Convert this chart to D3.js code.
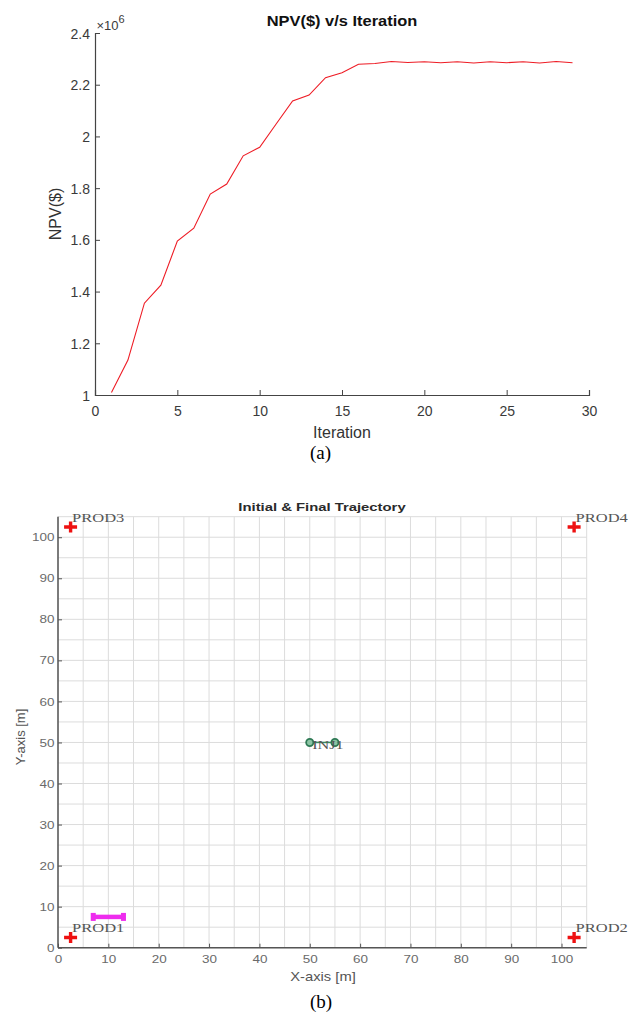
<!DOCTYPE html>
<html>
<head>
<meta charset="utf-8">
<script src="https://cdn.jsdelivr.net/npm/d3@7"></script>
<style>
  html, body { margin: 0; padding: 0; background: #fff; }
  svg { display: block; }
</style>
</head>
<body>
<script>
// ---- (a) NPV per optimisation iteration ----
const iterations = [1, 2, 3, 4, 5, 6, 7, 8, 9, 10, 11, 12, 13, 14, 15, 16, 17, 18, 19, 20, 21, 22, 23, 24, 25, 26, 27, 28, 29];
const npv = [1010000, 1135000, 1355000, 1425000, 1595000, 1645000, 1777000, 1816000, 1925000, 1958000,
             2048000, 2137000, 2160000, 2227000, 2246000, 2279000, 2282000, 2290000, 2286000, 2289000,
             2285000, 2289000, 2284000, 2289000, 2285000, 2289000, 2284000, 2290000, 2285000];
const iterTicks = [0, 5, 10, 15, 20, 25, 30];
const npvTicks = [1000000, 1200000, 1400000, 1600000, 1800000, 2000000, 2200000, 2400000];

// ---- (b) well locations and trajectories ----
const wellNames = ["PROD1", "PROD2", "PROD3", "PROD4"];
const wellX = [2.5, 102.5, 2.5, 102.5];
const wellY = [2.5, 2.5, 102.5, 102.5];
const injName = "INJ1";
const injTrajX = [50, 55];
const injTrajY = [50, 50];
const prodTrajX = [7, 13];
const prodTrajY = [7.5, 7.5];
const gridTicks = d3.range(0, 106, 5);
const axisTicks = [0, 10, 20, 30, 40, 50, 60, 70, 80, 90, 100];

const W = 630, H = 1013;
const svg = d3.select("body").append("svg").attr("width", W).attr("height", H);
const sans = "'Liberation Sans', Arial, Helvetica, sans-serif";
const serif = "'Liberation Serif', 'Times New Roman', serif";

// text with a horizontal stretch factor
function stext(g, x, y, str, o) {
  return g.append("text")
    .attr("transform", `translate(${x},${y}) scale(${o.sx || 1},1)` + (o.rot ? ` rotate(${o.rot})` : ""))
    .attr("text-anchor", o.anchor || "start")
    .attr("font-family", o.family || sans)
    .attr("font-size", o.size)
    .attr("font-weight", o.weight || "normal")
    .attr("fill", o.fill || "#333")
    .text(str);
}

// ================= chart (a) =================
const gA = svg.append("g");
const xA = d3.scaleLinear().domain([0, 30]).range([95, 589]);
const yA = d3.scaleLinear().domain([1000000, 2400000]).range([395, 33]);

const axA = gA.append("g").attr("transform", `translate(0,${yA.range()[0]})`)
  .call(d3.axisBottom(xA).tickValues(iterTicks).tickSize(-5).tickPadding(0).tickFormat(d3.format("d")));
axA.select(".domain").attr("stroke", "#444").attr("stroke-width", 1.2);
axA.selectAll(".tick line").attr("stroke", "#444");
axA.selectAll(".tick text").attr("y", 20.5).attr("dy", null)
  .attr("font-size", 14).attr("font-family", sans).attr("fill", "#3a3a3a");

const ayA = gA.append("g").attr("transform", `translate(${xA.range()[0]},0)`)
  .call(d3.axisLeft(yA).tickValues(npvTicks).tickSize(-5).tickPadding(0).tickFormat(d => d3.format("~g")(d / 1e6)));
ayA.select(".domain").attr("stroke", "#444").attr("stroke-width", 1.2);
ayA.selectAll(".tick line").attr("stroke", "#444");
ayA.selectAll(".tick text").attr("x", -5).attr("dy", "0.36em")
  .attr("font-size", 14).attr("font-family", sans).attr("fill", "#3a3a3a");

// exponent marker
const expo = gA.append("text").attr("x", 96.5).attr("y", 30).attr("font-family", sans).attr("fill", "#3a3a3a");
expo.append("tspan").attr("font-size", 13).text("×10");
expo.append("tspan").attr("font-size", 11).attr("dy", -7).text("6");

const lineA = d3.line().x((d, i) => xA(iterations[i])).y(d => yA(d));
gA.append("path").datum(npv).attr("d", lineA)
  .attr("fill", "none").attr("stroke", "#ee1c25").attr("stroke-width", 1.1);

stext(gA, 342, 26, "NPV($) v/s Iteration", { size: 15.5, weight: "bold", anchor: "middle", fill: "#111", sx: 1.06 });
stext(gA, 342, 438, "Iteration", { size: 16, anchor: "middle", fill: "#333" });
stext(gA, 60.5, 214, "NPV($)", { size: 16, anchor: "middle", fill: "#333", rot: -90 });
stext(gA, 320.5, 459, "(a)", { size: 19, anchor: "middle", family: serif, fill: "#000" });

// ================= chart (b) =================
const gB = svg.append("g");
const xB = d3.scaleLinear().domain([0, 105]).range([58, 586.7]);
const yB = d3.scaleLinear().domain([0, 105]).range([947.7, 516.7]);
const SX = 1.35;

// grid
gB.append("g").selectAll("line.v").data(gridTicks).join("line")
  .attr("x1", d => xB(d)).attr("x2", d => xB(d)).attr("y1", yB(0)).attr("y2", yB(105))
  .attr("stroke", "#dcdcdc").attr("stroke-width", 1);
gB.append("g").selectAll("line.h").data(gridTicks).join("line")
  .attr("y1", d => yB(d)).attr("y2", d => yB(d)).attr("x1", xB(0)).attr("x2", xB(105))
  .attr("stroke", "#dcdcdc").attr("stroke-width", 1);

// axes
const axB = gB.append("g").attr("transform", `translate(0,${yB(0)})`)
  .call(d3.axisBottom(xB).tickValues(axisTicks).tickSize(-4).tickPadding(0).tickFormat(d3.format("d")));
axB.select(".domain").attr("stroke", "#555").attr("stroke-width", 1.5).attr("d", `M${xB(0)},0H${xB(105)}`);
axB.selectAll(".tick line").attr("stroke", "#555");
axB.selectAll(".tick text").attr("y", null).attr("dy", null)
  .attr("transform", `translate(0,15) scale(${SX},1)`)
  .attr("font-size", 10).attr("font-family", sans).attr("fill", "#6a6a6a");

const ayB = gB.append("g").attr("transform", `translate(${xB(0)},0)`)
  .call(d3.axisLeft(yB).tickValues(axisTicks).tickSize(-4).tickPadding(0).tickFormat(d3.format("d")));
ayB.select(".domain").attr("stroke", "#555").attr("stroke-width", 1.5).attr("d", `M0,${yB(0)}V${yB(105)}`);
ayB.selectAll(".tick line").attr("stroke", "#555");
ayB.selectAll(".tick text").attr("x", null).attr("dy", "0.36em")
  .attr("transform", `translate(-3.5,0) scale(${SX},1)`)
  .attr("font-size", 10).attr("font-family", sans).attr("fill", "#6a6a6a");

// producer trajectory (magenta)
gB.append("line")
  .attr("x1", xB(prodTrajX[0])).attr("x2", xB(prodTrajX[1]))
  .attr("y1", yB(prodTrajY[0])).attr("y2", yB(prodTrajY[1]))
  .attr("stroke", "#ee2cee").attr("stroke-width", 4.5);
gB.append("g").selectAll("rect").data(prodTrajX).join("rect")
  .attr("x", (d) => xB(d) - 2.5).attr("y", (d, i) => yB(prodTrajY[i]) - 4)
  .attr("width", 5).attr("height", 8).attr("fill", "#ee2cee");

// injector trajectory (green)
gB.append("line")
  .attr("x1", xB(injTrajX[0])).attr("x2", xB(injTrajX[1]))
  .attr("y1", yB(injTrajY[0])).attr("y2", yB(injTrajY[1]))
  .attr("stroke", "#3a8a60").attr("stroke-width", 1.5);
gB.append("g").selectAll("circle").data(injTrajX).join("circle")
  .attr("cx", d => xB(d)).attr("cy", (d, i) => yB(injTrajY[i])).attr("r", 3.6)
  .attr("fill", "#8cc4a4").attr("stroke", "#2f7a55").attr("stroke-width", 1.8);
stext(gB, xB(injTrajX[0]) + 2.4, yB(injTrajY[0]) + 6.6, injName,
  { size: 12.5, family: serif, fill: "#555", sx: 1.3 });

// producer wells (red plus markers) with labels
const wells = gB.append("g");
wellNames.forEach((name, i) => {
  const cx = xB(wellX[i]), cy = yB(wellY[i]);
  wells.append("path")
    .attr("d", `M${cx - 6.5},${cy}H${cx + 6.5}M${cx},${cy - 5.5}V${cy + 5.5}`)
    .attr("stroke", "#ee1111").attr("stroke-width", 3.4).attr("fill", "none");
  stext(wells, cx + 1.5, cy - 5.2, name, { size: 12.5, family: serif, fill: "#555", sx: 1.32 });
});

stext(gB, 322, 510.5, "Initial & Final Trajectory", { size: 11, weight: "bold", anchor: "middle", fill: "#2a2a2a", sx: SX });
stext(gB, 323, 981, "X-axis [m]", { size: 12.5, anchor: "middle", fill: "#555", sx: 1.18 });
stext(gB, 25, 737, "Y-axis [m]", { size: 13, anchor: "middle", fill: "#555", rot: -90 });
stext(gB, 321, 1008, "(b)", { size: 19, anchor: "middle", family: serif, fill: "#000" });
</script>
</body>
</html>
